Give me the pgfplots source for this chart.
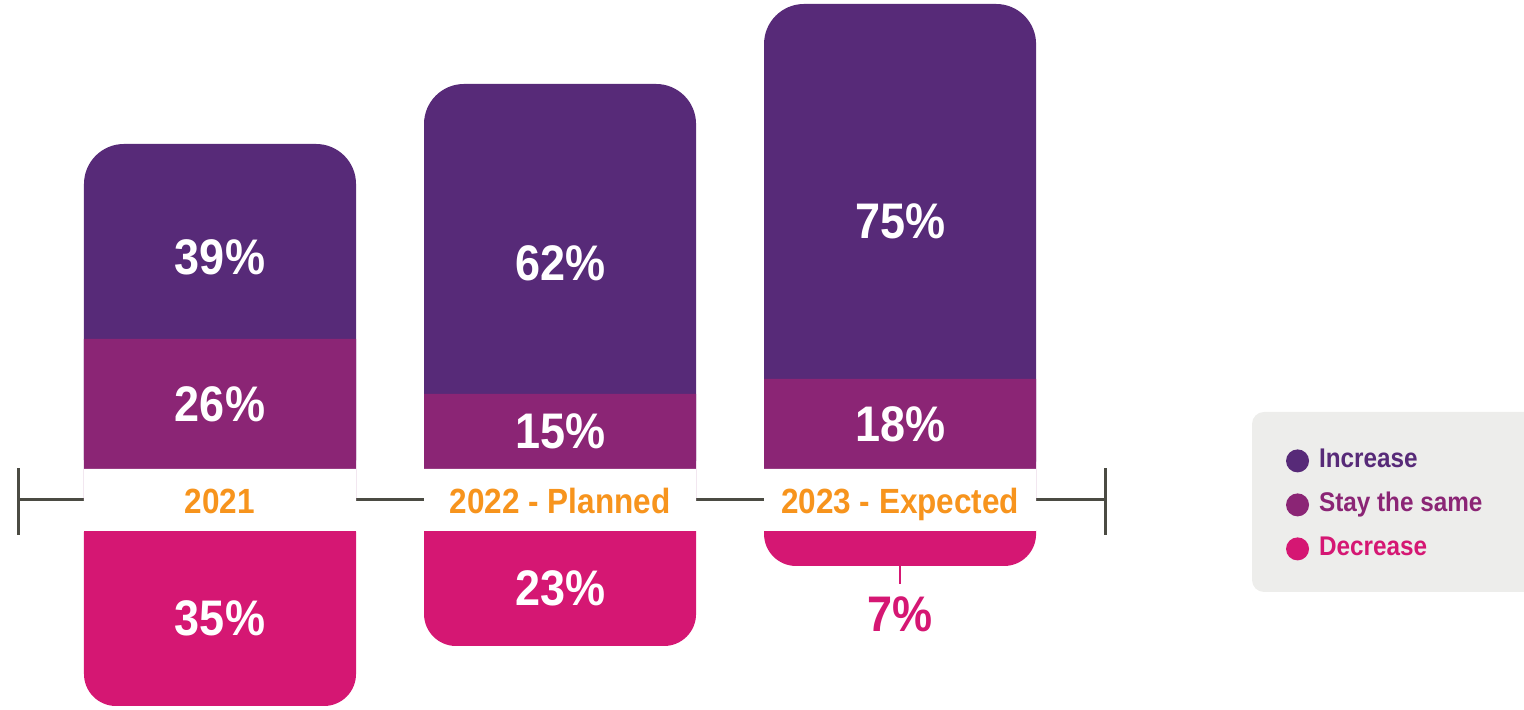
\documentclass[border=0pt]{standalone}
\usepackage{pgfplots}
\usepackage{pgfplotstable}
\pgfplotsset{compat=1.18}
\usepackage{fontspec}
\setmainfont{Liberation Sans}[FakeStretch=0.9]

\definecolor{inc}{HTML}{572A78}
\definecolor{stay}{HTML}{8B2575}
\definecolor{dec}{HTML}{D51773}
\definecolor{yr}{HTML}{F7941D}
\definecolor{axisgray}{HTML}{4B4B43}
\definecolor{legbg}{HTML}{EDEDEB}

\newcommand\bignum{\bfseries\fontsize{25}{28}\selectfont}

% shares of respondents, in %
\pgfplotstableread{
x inc stay dec
0 39 26 35
1 62 15 23
2 75 18 7
}\shares

\def\gap{6.2}% half height of the white band round the year labels

\begin{document}
\begin{tikzpicture}
\begin{axis}[
    scale only axis, width=762pt, height=355pt,
    xmin=-0.647, xmax=3.835, ymin=-42, ymax=100,
    hide axis, clip=false,
    /pgf/number format/assume math mode=true,
    legend cell align=left,
    legend style={draw=none, fill=none, inner sep=0pt,
        at={(axis cs:3.134,11.2)}, anchor=north west,
        font=\bfseries\fontsize{13.5}{15}\selectfont,
        nodes={inner sep=2pt, text height=9.5pt, text depth=3pt},
        /tikz/row sep=5.5pt, /tikz/column sep=3pt},
    bars/.style={ybar, bar width=0.8, bar shift=0pt, draw=none},
    lbl/.style={draw=none, mark=none, forget plot, nodes near coords,
        every node near coord/.append style={anchor=center}},
]
% time line
\draw[axisgray, line width=1.5pt] (axis cs:-0.594,0) -- (axis cs:2.603,0);
\draw[axisgray, line width=1.5pt] (axis cs:-0.594,-7) -- (axis cs:-0.594,6.4);
\draw[axisgray, line width=1.5pt] (axis cs:2.603,-7) -- (axis cs:2.603,6.4);

\addplot[bars, fill=inc, rounded corners=20pt,
    legend image code/.code={\fill[inc] (0pt,0pt) circle (5.75pt);}]
    table[x=x, y expr=\gap+\thisrow{stay}+\thisrow{inc}] {\shares};
\addlegendentry{\textcolor{inc}{Increase}}
\addplot[bars, fill=stay,
    legend image code/.code={\fill[stay] (0pt,0pt) circle (5.75pt);}]
    table[x=x, y expr=\gap+\thisrow{stay}] {\shares};
\addlegendentry{\textcolor{stay}{Stay the same}}
\addplot[bars, fill=dec, rounded corners=16pt,
    legend image code/.code={\fill[dec] (0pt,0pt) circle (5.75pt);}]
    table[x=x, y expr=-\gap-\thisrow{dec}] {\shares};
\addlegendentry{\textcolor{dec}{Decrease}}

% white band
\addplot[bars, fill=white, forget plot] table[x=x, y expr=\gap] {\shares};
\addplot[bars, fill=white, forget plot] table[x=x, y expr=-\gap] {\shares};

% year labels
\addplot[lbl, point meta=explicit symbolic,
    every node near coord/.append style={text=yr, text height=12.5pt, text depth=0pt,
        yshift=-0.5pt, font=\bfseries\fontsize{17.5}{20}\selectfont}]
    coordinates {(0,0) [2021] (1,0) [2022 - Planned] (2,0) [2023 - Expected]};

% values
\addplot[lbl, nodes near coords={\pgfmathprintnumber\pgfplotspointmeta\%},
    point meta=\thisrow{inc},
    every node near coord/.append style={text=white, font=\bignum}]
    table[x=x, y expr=\gap+\thisrow{stay}+0.42*\thisrow{inc}] {\shares};
\addplot[lbl, nodes near coords={\pgfmathprintnumber\pgfplotspointmeta\%},
    point meta=\thisrow{stay},
    every node near coord/.append style={text=white, font=\bignum}]
    table[x=x, y expr=\gap+0.5*\thisrow{stay}] {\shares};
\addplot[lbl, nodes near coords={\pgfmathprintnumber\pgfplotspointmeta\%},
    point meta=\thisrow{dec}, restrict x to domain=0:1,
    every node near coord/.append style={text=white, font=\bignum}]
    table[x=x, y expr=-\gap-0.5*\thisrow{dec}] {\shares};
\addplot[lbl, nodes near coords={\pgfmathprintnumber\pgfplotspointmeta\%},
    point meta=\thisrow{dec}, restrict x to domain=2:2,
    every node near coord/.append style={text=dec, font=\bignum, anchor=north, yshift=-12pt}]
    table[x=x, y expr=-\gap-\thisrow{dec}] {\shares};
\draw[dec, line width=1pt] (axis cs:2,-13.2) -- (axis cs:2,-16.8);

% legend panel
\fill[legbg, rounded corners=6pt] (axis cs:3.035,17.6) rectangle (axis cs:4.0,-18.4);
\end{axis}
\pgfresetboundingbox
\useasboundingbox (current axis.south west) rectangle (current axis.north east);
\end{tikzpicture}
\end{document}
